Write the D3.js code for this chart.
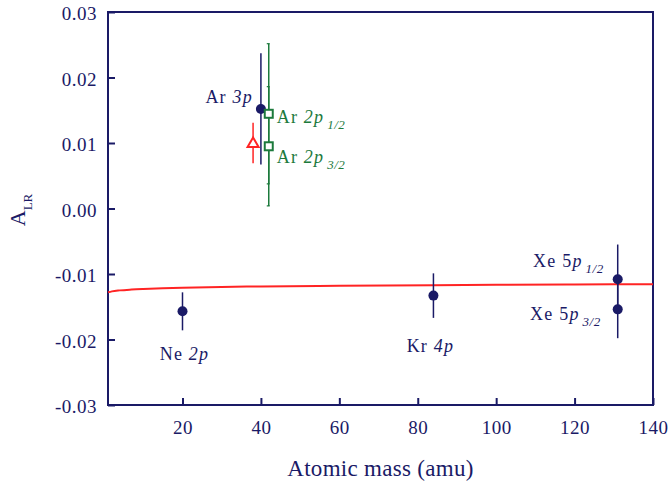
<!DOCTYPE html>
<html>
<head>
<meta charset="utf-8">
<script src="https://cdn.jsdelivr.net/npm/d3@7"></script>
<style>
  html, body { margin: 0; padding: 0; background: #fff; }
  svg { display: block; }
</style>
</head>
<body>
<svg id="chart" width="669" height="481"></svg>
<script>
// ---- data ----
const xTicks = [20, 40, 60, 80, 100, 120, 140];
const yTicks = [-0.03, -0.02, -0.01, 0.00, 0.01, 0.02, 0.03];

// navy filled circles (valence-shell measurements)
const navyLabels = ["Ne", "Ar", "Kr", "Xe", "Xe"];
const navyOrbital = ["2p", "3p", "4p", "5p", "5p"];
const navySub = ["", "", "", "1/2", "3/2"];
const navyMass = [20, 40, 84, 131, 131];
const navyALR = [-0.0157, 0.0152, -0.0133, -0.0108, -0.0154];
const navyErr = [0.0029, 0.0085, 0.0034, 0.0053, 0.0044];

// green open squares (Ar 2p)
const greenLabels = ["Ar", "Ar"];
const greenOrbital = ["2p", "2p"];
const greenSub = ["1/2", "3/2"];
const greenMass = [42, 42];
const greenALR = [0.01446, 0.0095];
const greenErr = [0.0107, 0.0091];

// red open triangle
const redMass = [38];
const redALR = [0.0100];
const redErr = [0.0031];

// red theory curve
const curveMass = [1, 2, 4, 7, 10, 15, 20, 30, 40, 60, 84, 100, 120, 140];
const curveALR = [-0.0128, -0.01265, -0.0125, -0.01237, -0.01228, -0.01217, -0.0121, -0.01198, -0.0119, -0.0118, -0.0117, -0.01165, -0.0116, -0.01155];

// ---- layout / style ----
const NAVY = "#1a1a66", GREEN = "#1c7a3c", RED = "#ff2424";
const FONT = "Liberation Serif";
const M = { left: 108, right: 653, top: 12, bottom: 405 };
const svg = d3.select("#chart");

const x = d3.scaleLinear().domain([1, 140]).range([M.left, M.right]);
const y = d3.scaleLinear().domain([-0.03, 0.03]).range([M.bottom, M.top]);

const fmt = d => d3.format(".2f")(d).replace("\u2212", "-").replace(/^-0\.00$/, "0.00");

// frame
svg.append("rect")
  .attr("x", M.left).attr("y", M.top)
  .attr("width", M.right - M.left).attr("height", M.bottom - M.top)
  .attr("fill", "none").attr("stroke", NAVY).attr("stroke-width", 2);

// y axis
const yAxis = svg.append("g")
  .attr("transform", `translate(${M.left},0)`)
  .call(d3.axisLeft(y).tickValues(yTicks).tickFormat(fmt).tickSizeInner(-7).tickSizeOuter(0).tickPadding(11));
yAxis.attr("font-family", null);
yAxis.select(".domain").remove();
yAxis.selectAll(".tick line").attr("stroke", NAVY).attr("stroke-width", 2);
yAxis.selectAll(".tick text")
  .attr("fill", NAVY).attr("font-size", 19).attr("letter-spacing", 0.5)
  .attr("dy", "0.4em");

// x axis
const xAxis = svg.append("g")
  .attr("transform", `translate(0,${M.bottom})`)
  .call(d3.axisBottom(x).tickValues(xTicks).tickFormat(d3.format("d")).tickSizeInner(-7).tickSizeOuter(0).tickPadding(0));
xAxis.attr("font-family", null);
xAxis.select(".domain").remove();
xAxis.selectAll(".tick line").attr("stroke", NAVY).attr("stroke-width", 2);
xAxis.selectAll(".tick text")
  .attr("fill", NAVY).attr("font-size", 19).attr("letter-spacing", 0.5)
  .attr("dy", null).attr("y", 29);

// axis titles
svg.append("text")
  .attr("x", (M.left + M.right) / 2).attr("y", 476)
  .attr("text-anchor", "middle").attr("fill", NAVY)
  .attr("font-size", 23).attr("letter-spacing", 0.3)
  .text("Atomic mass (amu)");

const yt = svg.append("text")
  .attr("transform", "translate(25,210) rotate(-90)")
  .attr("text-anchor", "middle").attr("fill", NAVY);
yt.append("tspan").attr("font-size", 22).text("A");
yt.append("tspan").attr("font-size", 13).attr("dy", 7).text("LR");

// red curve
const line = d3.line().x(d => x(d[0])).y(d => y(d[1])).curve(d3.curveMonotoneX);
svg.append("path")
  .datum(curveMass.map((m, i) => [m, curveALR[i]]))
  .attr("d", line).attr("fill", "none").attr("stroke", RED).attr("stroke-width", 2);

// error bars
function errBars(mass, val, err, color, cap) {
  mass.forEach((m, i) => {
    svg.append("line")
      .attr("x1", x(m)).attr("x2", x(m))
      .attr("y1", y(val[i] + err[i])).attr("y2", y(val[i] - err[i]))
      .attr("stroke", color).attr("stroke-width", 1.5);
    if (cap) {
      [val[i] + err[i], val[i] - err[i]].forEach(v => {
        svg.append("line")
          .attr("x1", x(m) - 2).attr("x2", x(m) + 1)
          .attr("y1", y(v)).attr("y2", y(v))
          .attr("stroke", color).attr("stroke-width", 1.2);
      });
    }
  });
}
errBars(navyMass, navyALR, navyErr, NAVY, false);
errBars(greenMass, greenALR, greenErr, GREEN, true);
errBars(redMass, redALR, redErr, RED, false);

// markers
navyMass.forEach((m, i) => {
  svg.append("circle").attr("cx", x(m)).attr("cy", y(navyALR[i])).attr("r", 5).attr("fill", NAVY);
});
greenMass.forEach((m, i) => {
  svg.append("rect")
    .attr("x", x(m) - 4).attr("y", y(greenALR[i]) - 4)
    .attr("width", 8).attr("height", 8)
    .attr("fill", "#fff").attr("stroke", GREEN).attr("stroke-width", 2);
});
redMass.forEach((m, i) => {
  const cx = x(m), cy = y(redALR[i]);
  svg.append("path")
    .attr("d", `M${cx},${cy - 5.5} L${cx + 5.5},${cy + 4} L${cx - 5.5},${cy + 4} Z`)
    .attr("fill", "#fff").attr("stroke", RED).attr("stroke-width", 2);
});

// labels
function label(px, py, anchor, color, el, orb, sub, italicDigit) {
  const t = svg.append("text")
    .attr("x", px).attr("y", py).attr("text-anchor", anchor)
    .attr("fill", color).attr("font-size", 18).attr("letter-spacing", 1.2);
  t.append("tspan").text(el + "\u00a0");
  if (italicDigit) {
    t.append("tspan").style("font-style", "italic").text(orb);
  } else {
    t.append("tspan").text(orb[0]);
    t.append("tspan").style("font-style", "italic").text(orb.slice(1));
  }
  if (sub) {
    t.append("tspan").style("font-style", "italic").attr("font-size", 13)
      .attr("dx", 3).attr("dy", 6).attr("letter-spacing", 0.5).text(sub);
  }
}
// offsets from each marker
const navyOffset = [[2, 49, "middle"], [-8, -6, "end"], [-3, 56, "middle"], [-14, -12, "end"], [-17, 11, "end"]];
navyMass.forEach((m, i) => {
  const o = navyOffset[i];
  label(x(m) + o[0], y(navyALR[i]) + o[1], o[2], NAVY, navyLabels[i], navyOrbital[i], navySub[i], navyLabels[i] !== "Xe");
});
const greenOffset = [[8, 9], [8, 17]];
greenMass.forEach((m, i) => {
  const o = greenOffset[i];
  label(x(m) + o[0], y(greenALR[i]) + o[1], "start", GREEN, greenLabels[i], greenOrbital[i], greenSub[i], true);
});

// font for every text
svg.selectAll("text").style("font-family", FONT);
</script>
</body>
</html>
